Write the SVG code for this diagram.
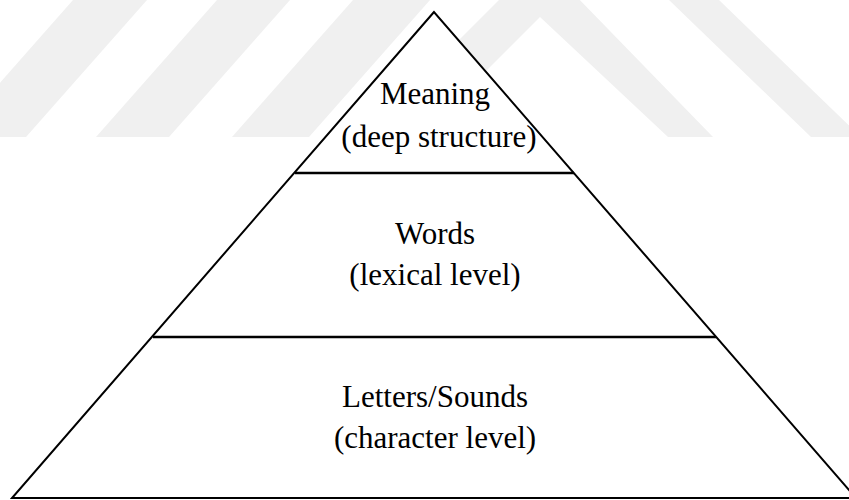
<svg xmlns="http://www.w3.org/2000/svg" width="849" height="500" viewBox="0 0 849 500">
  <style>
    .mark { fill: #f0f0f0; }
    .outline { fill: #ffffff; stroke: #000000; stroke-width: 2; stroke-linejoin: miter; }
    .divider { stroke: #000000; stroke-width: 2.4; }
    .label { font-family: "Liberation Serif", "Times New Roman", serif; font-size: 31px; fill: #000000; text-anchor: middle; }
  </style>

  <rect x="0" y="0" width="849" height="500" fill="#ffffff"/>

  <!-- faint background emblem: slanted stripes and a chevron -->
  <g id="emblem">
    <polygon class="mark" points="73,0 147,0 26,137 -48,137"/>
    <polygon class="mark" points="217,0 290,0 169,137 96,137"/>
    <polygon class="mark" points="353,0 430,0 309,137 232,137"/>
    <polygon class="mark" points="362,137 540,-41 713,137 668,137 540,17 420,137"/>
    <polygon class="mark" points="669,0 719,0 861,137 811,137"/>
  </g>

  <!-- pyramid body -->
  <g id="pyramid">
    <polygon class="outline" points="434,12 12,498 856,498"/>
  </g>

  <!-- tier separators -->
  <g id="connectors">
    <line class="divider" x1="295" y1="173" x2="574" y2="173"/>
    <line class="divider" x1="153" y1="337" x2="716" y2="337"/>
  </g>

  <g id="tier-meaning">
    <text class="label" x="435" y="104">Meaning</text>
    <text class="label" x="439" y="147">(deep structure)</text>
  </g>

  <g id="tier-words">
    <text class="label" x="435" y="244">Words</text>
    <text class="label" x="435" y="285">(lexical level)</text>
  </g>

  <g id="tier-letters">
    <text class="label" x="435" y="407">Letters/Sounds</text>
    <text class="label" x="435" y="448">(character level)</text>
  </g>
</svg>
